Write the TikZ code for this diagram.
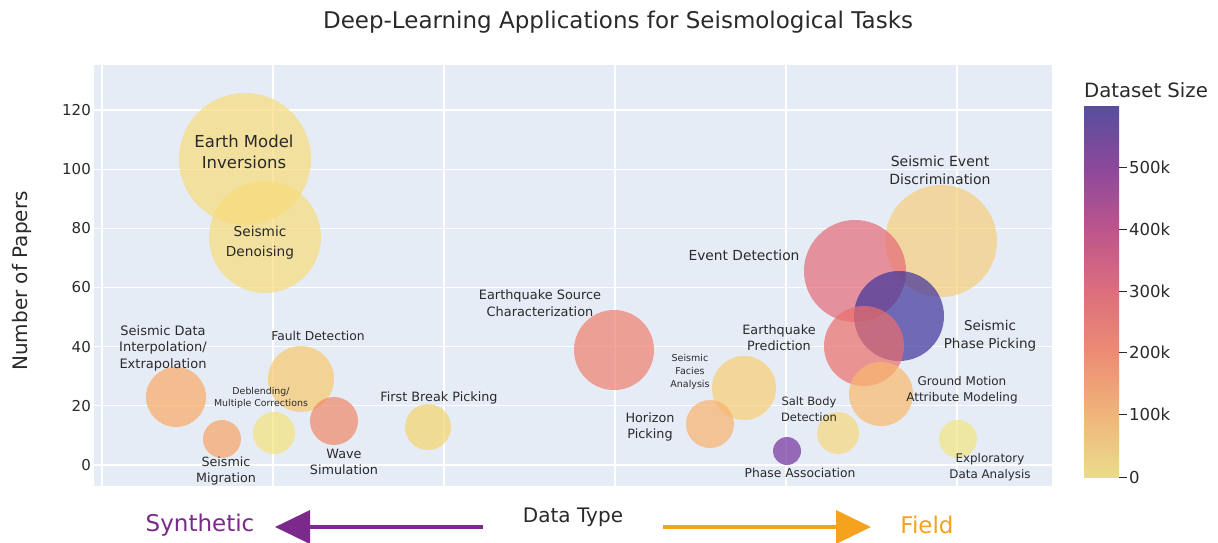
\documentclass[tikz,border=0pt]{standalone}
\usepackage{fontspec}
\setmainfont{DejaVu Sans}
\usetikzlibrary{arrows.meta}
\definecolor{plotbg}{RGB}{229,236,246}
\definecolor{txt}{RGB}{42,42,42}
\definecolor{synth}{RGB}{123,42,140}
\definecolor{fieldc}{RGB}{245,162,31}
% bubble base colours (drawn with opacity)
\definecolor{cEarth}{RGB}{248,219,123}
\definecolor{cSed}{RGB}{248,205,123}
\definecolor{cFacies}{RGB}{248,205,116}
\definecolor{cFbreak}{RGB}{245,213,109}
\definecolor{cFault}{RGB}{249,199,109}
\definecolor{cSalt}{RGB}{245,216,123}
\definecolor{cDebl}{RGB}{245,227,123}
\definecolor{cExpl}{RGB}{242,230,130}
\definecolor{cGround}{RGB}{249,185,109}
\definecolor{cHoriz}{RGB}{249,177,109}
\definecolor{cInterp}{RGB}{249,170,102}
\definecolor{cMigr}{RGB}{248,163,102}
\definecolor{cWave}{RGB}{239,135,102}
\definecolor{cEqsrc}{RGB}{239,127,109}
\definecolor{cEqpred}{RGB}{235,110,106}
\definecolor{cEvent}{RGB}{228,107,120}
\definecolor{cPhassoc}{RGB}{116,49,159}
\definecolor{cPhpick}{RGB}{62,50,155}
% colour bar stops
\definecolor{cb0}{RGB}{234,220,140}
\definecolor{cb1}{RGB}{240,180,122}
\definecolor{cb2}{RGB}{236,140,115}
\definecolor{cb3}{RGB}{220,110,125}
\definecolor{cb4}{RGB}{188,85,140}
\definecolor{cb5}{RGB}{140,72,155}
\definecolor{cb6}{RGB}{88,78,158}
\newcommand\fsz[2]{\fontsize{#1}{#2}\selectfont}
\begin{document}
\begin{tikzpicture}[x=1pt,y=-1pt,
  bub/.style={circle, inner sep=0pt, draw=none, fill opacity=0.7},
  lbl/.style={inner sep=0pt, align=center, text=txt},
  gridline/.style={white, line width=1.2pt},
  tick/.style={inner sep=0pt, anchor=east, text=txt, font=\fsz{15}{18}},
  cbtick/.style={inner sep=0pt, anchor=west, text=txt, font=\fsz{16.5}{20}},
  cbmark/.style={txt, line width=1pt},
  dirarrow/.style={line width=3.5pt, -{Triangle[length=35pt,width=33pt]}}
]
\useasboundingbox (0,0) rectangle (1218,543);
\fill[white] (0,0) rectangle (1218,543);

% plot area
\fill[plotbg] (94,65) rectangle (1052,486);
\foreach \v in {0,20,...,120}
  \draw[gridline] (94,{465-2.958*\v}) -- (1052,{465-2.958*\v});
\foreach \k in {0,...,5}
  \draw[gridline] ({102+171*\k},65) -- ({102+171*\k},486);

% y ticks
\foreach \v in {0,20,...,120}
  \node[tick] (yt\v) at (91,{465-2.958*\v}) {\v};
\node[lbl, rotate=90, font=\fsz{20}{24}] (ytitle) at (22,281) {Number of Papers};

% title
\node[lbl, font=\fsz{23}{28}] (title) at (618,22) {Deep-Learning Applications for Seismological Tasks};

% bubbles
\foreach \n/\x/\y/\d/\c in {
  sed/941/241/112/cSed,
  event/855/271/102/cEvent,
  phpick/899/316/90/cPhpick,
  eqpred/864/346/80/cEqpred,
  ground/881/394/64/cGround,
  earth/245/159/132/cEarth,
  denoise/265/237/112/cEarth,
  interp/176/397/60/cInterp,
  migr/222/439/38/cMigr,
  debl/274/433/42/cDebl,
  fault/301/379/66/cFault,
  wave/334/421/48/cWave,
  fbreak/428/427/46/cFbreak,
  eqsrc/614/350/80/cEqsrc,
  facies/744/388/64/cFacies,
  horizon/710/424/48/cHoriz,
  phassoc/787/451/28/cPhassoc,
  salt/838/433/42/cSalt,
  explor/958/439/38/cExpl}
  \node[bub, minimum size=\d pt, fill=\c] (\n) at (\x,\y) {};

% bubble labels
\node[lbl, font=\fsz{16.5}{21}] (lEarth) at (244,152) {Earth Model\\Inversions};
\node[lbl, font=\fsz{13.7}{20}] (lDenoise) at (260,243) {Seismic\\Denoising};
\node[lbl, font=\fsz{12.3}{15}] (lFault) at (318,336) {Fault Detection};
\node[lbl, font=\fsz{13}{16.5}] (lInterp) at (163,348) {Seismic Data\\Interpolation/\\Extrapolation};
\node[lbl, font=\fsz{9.4}{12}] (lDebl) at (261,398) {Deblending/\\Multiple Corrections};
\node[lbl, font=\fsz{12.7}{15.5}] (lMigr) at (226,471) {Seismic\\Migration};
\node[lbl, font=\fsz{12.8}{16}] (lWave) at (344,462) {Wave\\Simulation};
\node[lbl, font=\fsz{12.8}{16}] (lFbreak) at (439,398) {First Break Picking};
\node[lbl, font=\fsz{12.9}{17}] (lEqsrc) at (540,303) {Earthquake Source\\Characterization};
\node[lbl, font=\fsz{9.5}{13}] (lFacies) at (690,372) {Seismic\\Facies\\Analysis};
\node[lbl, font=\fsz{12.8}{16}] (lHoriz) at (650,427) {Horizon\\Picking};
\node[lbl, font=\fsz{12.8}{16}] (lEqpred) at (779,338) {Earthquake\\Prediction};
\node[lbl, font=\fsz{13.8}{17}] (lEvent) at (744,255) {Event Detection};
\node[lbl, font=\fsz{14}{18}] (lSed) at (940,170) {Seismic Event\\Discrimination};
\node[lbl, font=\fsz{13.5}{18}] (lPhpick) at (990,336) {Seismic\\Phase Picking};
\node[lbl, font=\fsz{12}{16}] (lGround) at (962,390) {Ground Motion\\Attribute Modeling};
\node[lbl, font=\fsz{11.5}{16}] (lSalt) at (809,409) {Salt Body\\Detection};
\node[lbl, font=\fsz{12.3}{15}] (lPhassoc) at (800,473) {Phase Association};
\node[lbl, font=\fsz{11.9}{16}] (lExpl) at (990,467) {Exploratory\\Data Analysis};

% colour bar
\shade[top color=cb1, bottom color=cb0] (1084,414) rectangle (1119,477);
\shade[top color=cb2, bottom color=cb1] (1084,352) rectangle (1119,414.5);
\shade[top color=cb3, bottom color=cb2] (1084,291) rectangle (1119,352.5);
\shade[top color=cb4, bottom color=cb3] (1084,229) rectangle (1119,291.5);
\shade[top color=cb5, bottom color=cb4] (1084,167) rectangle (1119,229.5);
\shade[top color=cb6, bottom color=cb5] (1084,106) rectangle (1119,167.5);
\foreach \t/\yy/\s in {0/477/0, 1/414/100k, 2/352/200k, 3/291/300k, 4/229/400k, 5/167/500k}{
  \draw[cbmark] (1119,\yy) -- (1127,\yy);
  \node[cbtick] (cbl\t) at (1129,\yy) {\s};
}
\node[lbl, font=\fsz{19.7}{24}] (cbtitle) at (1146,90) {Dataset Size};

% data type arrows
\node[lbl, font=\fsz{20}{24}] (dtype) at (573,517) {Data Type};
\node[lbl, font=\fsz{23}{28}, text=synth] (synthetic) at (200,525) {Synthetic};
\node[lbl, font=\fsz{23}{28}, text=fieldc] (field) at (927,525) {Field};
\coordinate (synTail) at (483,527);
\coordinate (synTip) at (275,527);
\coordinate (fldTail) at (663,527);
\coordinate (fldTip) at (871,527);
\draw[dirarrow, synth] (synTail) -- (synTip);
\draw[dirarrow, fieldc] (fldTail) -- (fldTip);
\end{tikzpicture}
\end{document}
